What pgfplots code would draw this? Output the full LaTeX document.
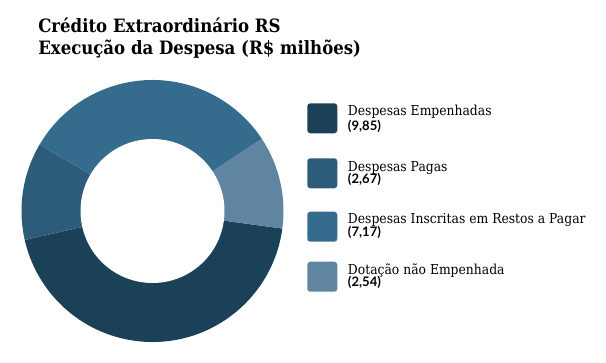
\documentclass[border=0pt]{standalone}
\usepackage{pgfplots}
\usepackage{pgfplotstable}
\pgfplotsset{compat=1.18}
\usepackage{fontspec}
\setmainfont{DejaVu Serif}[FakeStretch=0.9]
\newfontfamily\lato{Lato}
\definecolor{cA}{RGB}{27,65,89}
\definecolor{cB}{RGB}{45,92,122}
\definecolor{cC}{RGB}{53,108,141}
\definecolor{cD}{RGB}{95,133,161}
\pgfplotstableread{
label value
Empenhadas 9.85
Pagas 2.67
Inscritas 7.17
Dotacao 2.54
}\data
\begin{document}
\begin{tikzpicture}
\pgfplotstablegetelem{0}{value}\of\data \let\vA\pgfplotsretval
\pgfplotstablegetelem{1}{value}\of\data \let\vB\pgfplotsretval
\pgfplotstablegetelem{2}{value}\of\data \let\vC\pgfplotsretval
\pgfplotstablegetelem{3}{value}\of\data \let\vD\pgfplotsretval
\pgfmathsetmacro\tot{\vA+\vB+\vC+\vD}
\pgfmathsetmacro\aO{-7.7}
\pgfmathsetmacro\aA{\aO-360*\vA/\tot}
\pgfmathsetmacro\aB{\aA-360*\vB/\tot}
\pgfmathsetmacro\aC{\aB-360*\vC/\tot}
\pgfmathsetmacro\aD{\aC-360*\vD/\tot}
\begin{axis}[
  x=0.75pt, y=0.75pt, xmin=0, xmax=606, ymin=0, ymax=362,
  scale only axis, hide axis, clip=false,
]
\addplot[draw=none] coordinates {(0,0) (606,362)};
% donut
\fill[cA] (axis cs:152.5,151) -- ++(\aO:98.25pt) arc[start angle=\aO, end angle=\aA, radius=98.25pt] -- cycle;
\fill[cB] (axis cs:152.5,151) -- ++(\aA:98.25pt) arc[start angle=\aA, end angle=\aB, radius=98.25pt] -- cycle;
\fill[cC] (axis cs:152.5,151) -- ++(\aB:98.25pt) arc[start angle=\aB, end angle=\aC, radius=98.25pt] -- cycle;
\fill[cD] (axis cs:152.5,151) -- ++(\aC:98.25pt) arc[start angle=\aC, end angle=\aD, radius=98.25pt] -- cycle;
\fill[white] (axis cs:152.5,151) circle[radius=54pt];
% title
\node[anchor=base west, inner sep=0] at (axis cs:38,329.7) {\fontsize{13.8pt}{16pt}\selectfont\bfseries Crédito Extraordinário RS};
\node[anchor=base west, inner sep=0] at (axis cs:38,307.7) {\fontsize{13.8pt}{16pt}\selectfont\bfseries Execução da Despesa (R\$ milhões)};
% legend
\fill[cA, rounded corners=2.25pt] (axis cs:307.3,258.7) rectangle (axis cs:337.3,228.7);
\fill[cB, rounded corners=2.25pt] (axis cs:307.3,203.7) rectangle (axis cs:337.3,173.7);
\fill[cC, rounded corners=2.25pt] (axis cs:307.3,150.3) rectangle (axis cs:337.3,120.3);
\fill[cD, rounded corners=2.25pt] (axis cs:307.3,100.3) rectangle (axis cs:337.3,70.3);
\node[anchor=base west, inner sep=0] at (axis cs:347.7,246.3) {\fontsize{10.3pt}{12pt}\selectfont Despesas Empenhadas};
\node[anchor=base west, inner sep=0] at (axis cs:347.7,232) {\fontsize{9.8pt}{11pt}\selectfont\lato\bfseries (9,85)};
\node[anchor=base west, inner sep=0] at (axis cs:347.7,191) {\fontsize{10.3pt}{12pt}\selectfont Despesas Pagas};
\node[anchor=base west, inner sep=0] at (axis cs:347.7,178.7) {\fontsize{9.8pt}{11pt}\selectfont\lato\bfseries (2,67)};
\node[anchor=base west, inner sep=0] at (axis cs:347.7,138.7) {\fontsize{10.3pt}{12pt}\selectfont Despesas Inscritas em Restos a Pagar};
\node[anchor=base west, inner sep=0] at (axis cs:347.7,125.3) {\fontsize{9.8pt}{11pt}\selectfont\lato\bfseries (7,17)};
\node[anchor=base west, inner sep=0] at (axis cs:347.7,88) {\fontsize{10.3pt}{12pt}\selectfont Dotação não Empenhada};
\node[anchor=base west, inner sep=0] at (axis cs:347.7,75.3) {\fontsize{9.8pt}{11pt}\selectfont\lato\bfseries (2,54)};
\end{axis}
\end{tikzpicture}
\end{document}
